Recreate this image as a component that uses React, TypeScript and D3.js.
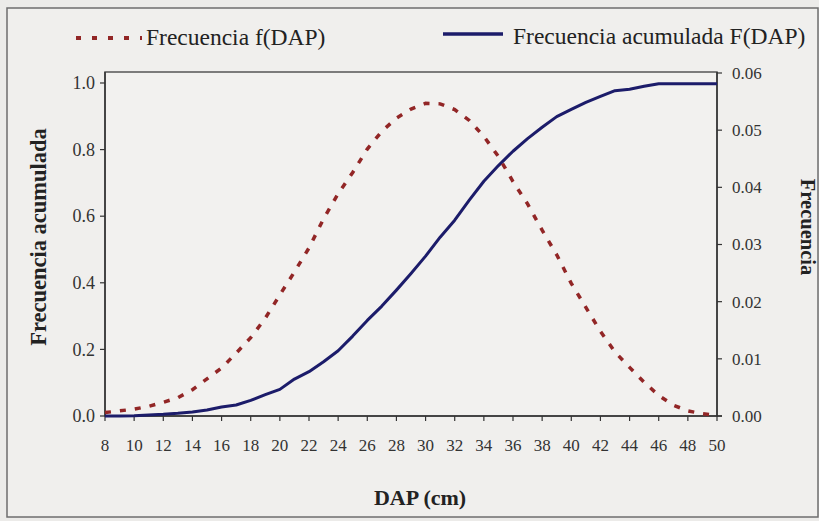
import React from "react";
import * as d3 from "d3";

const dap: number[] = [8, 9, 10, 11, 12, 13, 14, 15, 16, 17, 18, 19, 20, 21, 22, 23, 24, 25, 26, 27, 28, 29, 30, 31, 32, 33, 34, 35, 36, 37, 38, 39, 40, 41, 42, 43, 44, 45, 46, 47, 48, 49, 50];

const freq: number[] = [0.0006, 0.0009, 0.0012, 0.0017, 0.0024, 0.0032, 0.0046, 0.0065, 0.0084, 0.011, 0.0137, 0.0171, 0.0212, 0.0252, 0.0294, 0.0345, 0.0389, 0.0426, 0.0467, 0.0498, 0.0521, 0.0537, 0.0547, 0.0546, 0.0536, 0.0517, 0.0489, 0.0454, 0.041, 0.0371, 0.0325, 0.0282, 0.0232, 0.019, 0.0148, 0.0112, 0.0085, 0.0059, 0.0036, 0.0019, 0.0009, 0.0004, 0.0001];

const cumFreq: number[] = [0.0, 0.0, 0.001, 0.003, 0.005, 0.008, 0.012, 0.018, 0.027, 0.033, 0.047, 0.064, 0.08, 0.111, 0.133, 0.163, 0.196, 0.24, 0.287, 0.33, 0.378, 0.428, 0.48, 0.537, 0.588, 0.648, 0.705, 0.752, 0.795, 0.833, 0.867, 0.899, 0.921, 0.942, 0.96, 0.977, 0.981, 0.99, 0.998, 0.998, 0.998, 0.998, 0.998];

const xTicks: number[] = [8, 10, 12, 14, 16, 18, 20, 22, 24, 26, 28, 30, 32, 34, 36, 38, 40, 42, 44, 46, 48, 50];
const leftTicks: number[] = [0, 0.2, 0.4, 0.6, 0.8, 1.0];
const rightTicks: number[] = [0, 0.01, 0.02, 0.03, 0.04, 0.05, 0.06];

const FONT = "'Liberation Serif', 'Times New Roman', serif";
const RED = "#922626";
const BLUE = "#1c1c6a";

export default function App() {
  const W = 819;
  const H = 521;
  const plot = { left: 105, right: 717, top: 72, bottom: 416 };

  const x = d3.scaleLinear().domain([8, 50]).range([plot.left, plot.right]);
  const yL = d3.scaleLinear().domain([0, 1.033]).range([plot.bottom, plot.top]);
  const yR = d3.scaleLinear().domain([0, 0.06]).range([plot.bottom, plot.top + 1]);

  const cumLine = d3
    .line<number>()
    .x((_, i) => x(dap[i]))
    .y((d) => yL(d));
  const freqLine = d3
    .line<number>()
    .x((_, i) => x(dap[i]))
    .y((d) => yR(d));

  return (
    <svg
      width={W}
      height={H}
      style={{ position: "absolute", left: 0, top: 0, display: "block" }}
      fontFamily={FONT}
    >
      <rect x={0} y={0} width={W} height={H} fill="#ecebe9" />
      <rect x={7} y={8} width={811} height={509} fill="#f0efed" stroke="#6e6e6e" strokeWidth={1.5} />

      {/* Legend */}
      <line x1={76} x2={142} y1={38} y2={38} stroke={RED} strokeWidth={4} strokeDasharray="5 11" />
      <text x={146} y={45} fontSize={23.5} fill="#222">Frecuencia f(DAP)</text>
      <line x1={443} x2={503} y1={34} y2={34} stroke={BLUE} strokeWidth={3.5} />
      <text x={513} y={44} fontSize={23.5} fill="#222">Frecuencia acumulada F(DAP)</text>

      {/* Plot area */}
      <rect
        x={plot.left}
        y={plot.top}
        width={plot.right - plot.left}
        height={plot.bottom - plot.top}
        fill="#f2f1ef"
        stroke="#555"
        strokeWidth={1.5}
      />

      {/* Left axis */}
      <line x1={plot.left} x2={plot.left} y1={plot.top} y2={plot.bottom} stroke="#333" strokeWidth={1.5} />
      {leftTicks.map((t) => (
        <g key={"l" + t}>
          <line x1={plot.left - 5} x2={plot.left} y1={yL(t)} y2={yL(t)} stroke="#333" strokeWidth={1.2} />
          <text x={95} y={yL(t)} dy="0.35em" textAnchor="end" fontSize={18} fill="#333">
            {t.toFixed(1)}
          </text>
        </g>
      ))}

      {/* Right axis */}
      <line x1={plot.right} x2={plot.right} y1={plot.top} y2={plot.bottom} stroke="#333" strokeWidth={1.5} />
      {rightTicks.map((t) => (
        <g key={"r" + t}>
          <line x1={plot.right} x2={plot.right + 5} y1={yR(t)} y2={yR(t)} stroke="#333" strokeWidth={1.2} />
          <text x={732} y={yR(t)} dy="0.35em" textAnchor="start" fontSize={17} fill="#333">
            {t.toFixed(2)}
          </text>
        </g>
      ))}

      {/* Bottom axis */}
      <line x1={plot.left} x2={plot.right + 5} y1={plot.bottom} y2={plot.bottom} stroke="#333" strokeWidth={1.5} />
      {xTicks.map((t) => (
        <g key={"x" + t}>
          <line x1={x(t)} x2={x(t)} y1={plot.bottom} y2={plot.bottom + 5} stroke="#333" strokeWidth={1.2} />
          <text x={x(t)} y={451} textAnchor="middle" fontSize={17} fill="#333">
            {t}
          </text>
        </g>
      ))}

      {/* Series */}
      <path d={cumLine(cumFreq) || ""} fill="none" stroke={BLUE} strokeWidth={3} strokeLinejoin="round" />
      <path d={freqLine(freq) || ""} fill="none" stroke={RED} strokeWidth={3.5} strokeDasharray="6 9" />

      {/* Axis titles */}
      <text
        transform={`translate(38,237) rotate(-90)`}
        textAnchor="middle"
        dominantBaseline="central"
        fontSize={22.5}
        fontWeight="bold"
        fill="#222"
      >
        Frecuencia acumulada
      </text>
      <text
        transform={`translate(808,227) rotate(90)`}
        textAnchor="middle"
        dominantBaseline="central"
        fontSize={20.5}
        fontWeight="bold"
        fill="#222"
      >
        Frecuencia
      </text>
      <text x={420} y={505} textAnchor="middle" fontSize={22} fontWeight="bold" fill="#222">
        DAP (cm)
      </text>
    </svg>
  );
}
